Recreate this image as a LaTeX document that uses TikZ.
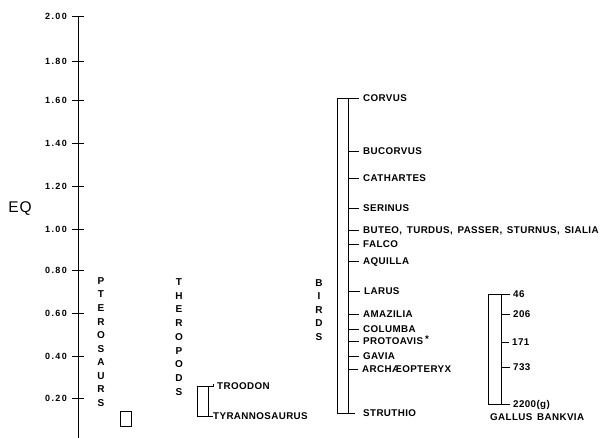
\documentclass[tikz,border=0pt]{standalone}
\usepackage{fontspec}
\setmainfont{Liberation Sans}
\newfontfamily\labfont[LetterSpace=4]{Liberation Sans Bold}
\newfontfamily\numfont[LetterSpace=15]{Liberation Sans Bold}
\newfontfamily\vertfont{Liberation Sans Bold}
\begin{document}
\begin{tikzpicture}[x=1pt,y=-1pt,
  lab/.style={font=\labfont\fontsize{9.8}{10}\selectfont, inner sep=0pt, anchor=west, text height=7pt, text depth=0pt},
  axlab/.style={font=\numfont\fontsize{9}{10}\selectfont, inner sep=0pt, anchor=east, text height=6.4pt, text depth=0pt},
  vlab/.style={inner sep=0pt, align=center},
  ln/.style={line width=0.9pt},
  thin/.style={line width=0.8pt}]
\useasboundingbox (0,0) rectangle (614,438);

% axis
\coordinate (axtop) at (78,16);
\coordinate (axbot) at (78,438);
\draw[ln] (axtop) -- (axbot);
\foreach \v/\y in {200/16,180/61,160/100,140/143,120/186,100/229,080/270,060/313,040/356,020/398}{
  \coordinate (t\v) at (78,\y);
  \draw[thin] ([xshift=-6pt]t\v) -- ([xshift=6pt]t\v);
}
\node[axlab] (l200) at (67,16) {2.00};
\node[axlab] (l180) at (67,61) {1.80};
\node[axlab] (l160) at (67,100) {1.60};
\node[axlab] (l140) at (67,143) {1.40};
\node[axlab] (l120) at (67,186) {1.20};
\node[axlab] (l100) at (67,229) {1.00};
\node[axlab] (l080) at (67,270) {0.80};
\node[axlab] (l060) at (67,313) {0.60};
\node[axlab] (l040) at (67,356) {0.40};
\node[axlab] (l020) at (67,398) {0.20};

\node[font=\fontsize{15.5}{16}\selectfont, inner sep=0pt] (eq) at (20,209) {E\kern1pt Q};

% vertical group labels
\node[vlab, font=\vertfont\fontsize{10}{13.55}\selectfont] (ptero) at (101,342) {P\\T\\E\\R\\O\\S\\A\\U\\R\\S};
\node[vlab, font=\vertfont\fontsize{10}{13.75}\selectfont] (thero) at (179,337) {T\\H\\E\\R\\O\\P\\O\\D\\S};
\node[vlab, font=\vertfont\fontsize{10}{13.5}\selectfont] (birds) at (319,310) {B\\I\\R\\D\\S};

% pterosaur box
\node[draw, thin, minimum width=11pt, minimum height=15pt, inner sep=0pt] (pbox) at (125.5,418.5) {};

% theropods bracket
\coordinate (tro) at (197,386);
\coordinate (tru) at (208,386);
\coordinate (tlo) at (197,416);
\coordinate (tlu) at (208,416);
\node[lab] (troodon) at (217,386) {TROODON};
\node[lab] (tyranno) at (213,416) {TYRANNOSAURUS};
\draw[thin] (tro) -- (tlo) -- (tyranno.west);
\draw[thin] (tru) -- (tlu);
\draw[thin] (tro) -- ([xshift=-4pt]troodon.west);
\draw[thin] ([xshift=-4pt]troodon.west) ++(0,-1.5) -- ++(0,3);

% birds bracket
\coordinate (bo) at (337,98);
\coordinate (bi) at (348,98);
\coordinate (bob) at (337,413);
\coordinate (bib) at (348,413);
\draw[thin] (bo) -- (bob);
\draw[thin] (bi) -- (bib);
\node[lab] (corvus) at (363,98) {CORVUS};
\node[lab] (bucorvus) at (363,151) {BUCORVUS};
\node[lab] (cathartes) at (363,178) {CATHARTES};
\node[lab] (serinus) at (363,208) {SERINUS};
\node[lab] (buteo) at (363,230) {BUTEO, \,TURDUS, \,PASSER, \,STURNUS, \,SIALIA};
\node[lab] (falco) at (363,244) {FALCO};
\node[lab] (aquilla) at (363,261) {AQUILLA};
\node[lab] (larus) at (364,291) {LARUS};
\node[lab] (amazilia) at (363,314) {AMAZILIA};
\node[lab] (columba) at (363,329) {COLUMBA};
\node[lab] (protoavis) at (363,341) {PROTOAVIS\kern2pt\raisebox{2pt}{*}};
\node[lab] (gavia) at (363,356) {GAVIA};
\node[lab] (archae) at (362,369) {ARCH\AE OPTERYX};
\node[lab] (struthio) at (363,413) {STRUTHIO};
\draw[thin] (bo) -- ([xshift=-4pt]corvus.west);
\draw[thin] (bob) -- ([xshift=-8pt]struthio.west);
\foreach \n in {bucorvus,cathartes,serinus,buteo,falco,aquilla,larus,amazilia,columba,protoavis,gavia,archae}{
  \draw[thin] (bi |- \n.west) -- ([xshift=-4pt]\n.west);
}

% gallus bracket
\coordinate (go) at (488,294);
\coordinate (gi) at (501,294);
\coordinate (gob) at (488,404);
\coordinate (gib) at (501,404);
\draw[thin] (go) -- (gob);
\draw[thin] (gi) -- (gib);
\node[lab] (g46) at (513,294) {46};
\node[lab] (g206) at (513,314) {206};
\node[lab] (g171) at (512,342) {171};
\node[lab] (g733) at (513,367) {733};
\node[lab] (g2200) at (513,404) {2200(g)};
\draw[thin] (go) -- ([xshift=-3pt]g46.west);
\draw[thin] (gob) -- ([xshift=-3pt]g2200.west);
\foreach \n in {g206,g171,g733}{
  \draw[thin] (gi |- \n.west) -- ([xshift=-3pt]\n.west);
}
\node[lab] (gallus) at (490,417) {GALLUS \,BANKVIA};
\end{tikzpicture}
\end{document}
